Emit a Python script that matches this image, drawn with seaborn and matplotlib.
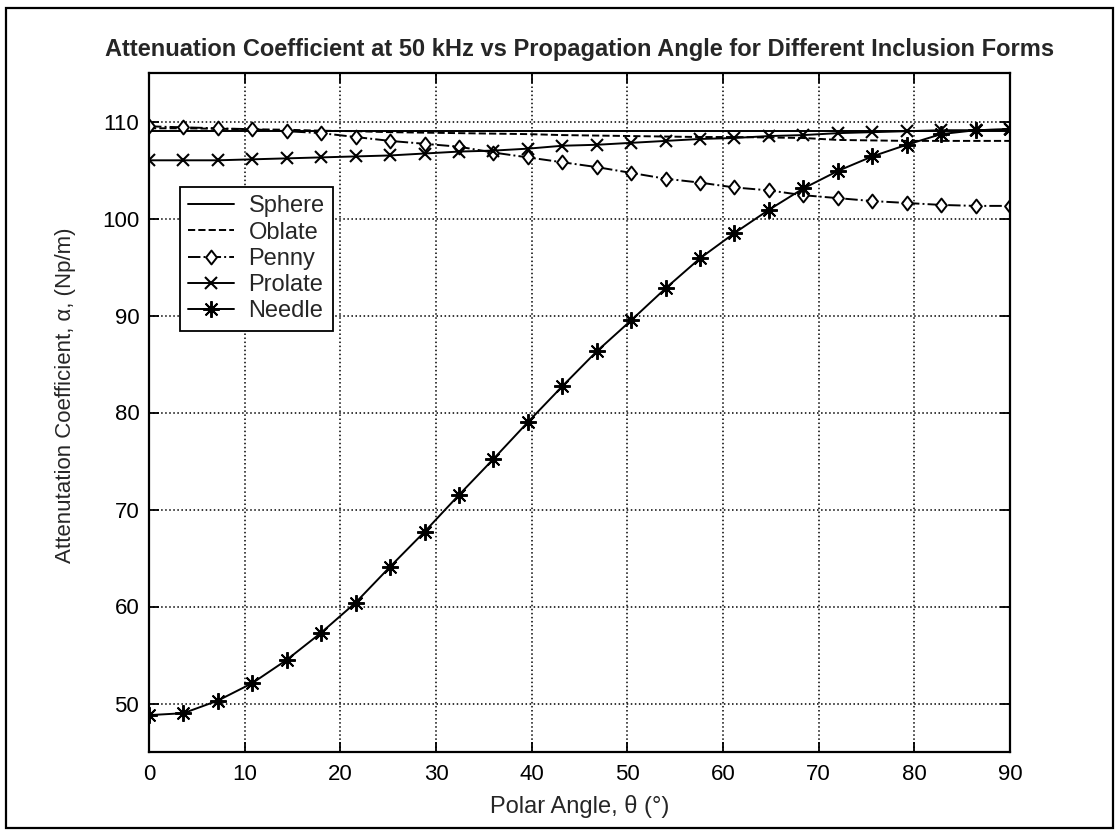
import numpy as np
import pandas as pd
import matplotlib
matplotlib.use("Agg")
import matplotlib.pyplot as plt
from matplotlib.patches import Rectangle
from matplotlib.path import Path
import seaborn as sns

# ---- data ----
angle = [0, 3.6, 7.2, 10.8, 14.4, 18, 21.6, 25.2, 28.8, 32.4, 36, 39.6, 43.2,
         46.8, 50.4, 54, 57.6, 61.2, 64.8, 68.4, 72, 75.6, 79.2, 82.8, 86.4, 90]
sphere = [109.0, 109.0, 109.0, 109.0, 109.0, 109.0, 109.0, 109.0, 109.0, 109.0,
          109.0, 109.0, 109.0, 109.0, 109.0, 109.0, 109.0, 109.0, 109.0, 109.0,
          109.0, 109.0, 109.0, 109.0, 109.0, 109.0]
oblate = [109.3, 109.3, 109.25, 109.2, 109.15, 109.05, 109.0, 108.9, 108.85, 108.8,
          108.75, 108.7, 108.6, 108.55, 108.5, 108.45, 108.4, 108.4, 108.35, 108.3,
          108.1, 108.05, 108.0, 108.0, 108.0, 108.0]
penny = [109.5, 109.4, 109.3, 109.2, 109.0, 108.8, 108.4, 108.0, 107.7, 107.4,
         106.8, 106.3, 105.8, 105.3, 104.7, 104.1, 103.7, 103.2, 102.9, 102.4,
         102.1, 101.8, 101.6, 101.4, 101.3, 101.3]
prolate = [106.0, 106.0, 106.0, 106.1, 106.2, 106.3, 106.4, 106.5, 106.7, 106.9,
           107.0, 107.2, 107.5, 107.6, 107.8, 108.0, 108.2, 108.3, 108.5, 108.6,
           108.8, 108.9, 109.0, 109.1, 109.1, 109.2]
needle = [48.8, 49.0, 50.3, 52.1, 54.5, 57.3, 60.4, 64.1, 67.7, 71.5,
          75.2, 79.0, 82.7, 86.3, 89.5, 92.8, 95.9, 98.5, 100.9, 103.1,
          104.9, 106.4, 107.6, 108.7, 109.1, 109.2]
series_names = ["Sphere", "Oblate", "Penny", "Prolate", "Needle"]
x_ticks = [0, 10, 20, 30, 40, 50, 60, 70, 80, 90]
y_ticks = [50, 60, 70, 80, 90, 100, 110]

title = "Attenuation Coefficient at 50 kHz vs Propagation Angle for Different Inclusion Forms"
xlabel = "Polar Angle, \u03b8 (\u00b0)"
ylabel = "Attenutation Coefficient, \u03b1, (Np/m)"

df = pd.DataFrame({"angle": angle, "Sphere": sphere, "Oblate": oblate,
                   "Penny": penny, "Prolate": prolate, "Needle": needle})

sns.set_theme(style="ticks")
plt.rcParams["font.family"] = ["Liberation Sans", "DejaVu Sans"]
plt.rcParams["axes.edgecolor"] = "black"
plt.rcParams["axes.linewidth"] = 1.6

fig = plt.figure(figsize=(11.19, 8.36), dpi=100)
fig.patch.set_facecolor("white")
ax = fig.add_axes([149 / 1119, 1 - 752 / 836, (1010 - 149) / 1119, (752 - 73) / 836])

diamond = Path([(0, 1), (0.78, 0), (0, -1), (-0.78, 0), (0, 1)],
               [Path.MOVETO, Path.LINETO, Path.LINETO, Path.LINETO, Path.CLOSEPOLY])

styles = {
    "Sphere": dict(linestyle="-"),
    "Oblate": dict(linestyle="--", dashes=(6, 3)),
    "Penny": dict(linestyle="-.", marker=diamond, markersize=10, markerfacecolor="white",
                  markeredgecolor="black", markeredgewidth=1.4),
    "Prolate": dict(linestyle="-", marker="x", markersize=9, markeredgewidth=1.5,
                    markeredgecolor="black"),
    "Needle": dict(linestyle="-", marker=(8, 2, 0), markersize=12, markeredgewidth=1.4,
                   markeredgecolor="black"),
}

for name in series_names:
    sns.lineplot(data=df, x="angle", y=name, ax=ax, color="black", linewidth=1.4,
                 label=name, **styles[name])

ax.set_xlim(0, 90)
ax.set_ylim(45, 115)
ax.set_xticks(x_ticks)
ax.set_yticks(y_ticks)
ax.tick_params(direction="in", top=True, right=True, length=7, width=1.3,
               labelsize=16, colors="black", pad=7)
ax.tick_params(axis="x", pad=9)
ax.grid(True, linestyle=":", color="black", linewidth=1.1)
for s in ax.spines.values():
    s.set_visible(True)
    s.set_color("black")

ax.set_title(title, fontsize=17, fontweight="bold", pad=12)
ax.set_xlabel(xlabel, fontsize=17, labelpad=7)
ax.set_ylabel(ylabel, fontsize=16)
ax.yaxis.set_label_coords(-0.085, 0.525)

leg = ax.legend(loc="upper left", bbox_to_anchor=(0.036, 0.832), borderaxespad=0,
                fontsize=17, frameon=True, fancybox=False, edgecolor="black",
                framealpha=1, handlelength=1.95, handletextpad=0.6, labelspacing=0.18,
                borderpad=0.35)
leg.get_frame().set_linewidth(1.3)

fig.patches.append(Rectangle((6 / 1119, 8 / 836), (1113 - 6) / 1119, (828 - 8) / 836,
                             transform=fig.transFigure, fill=False, lw=1.6,
                             edgecolor="black"))

fig.savefig("out.png", dpi=100, facecolor="white")
